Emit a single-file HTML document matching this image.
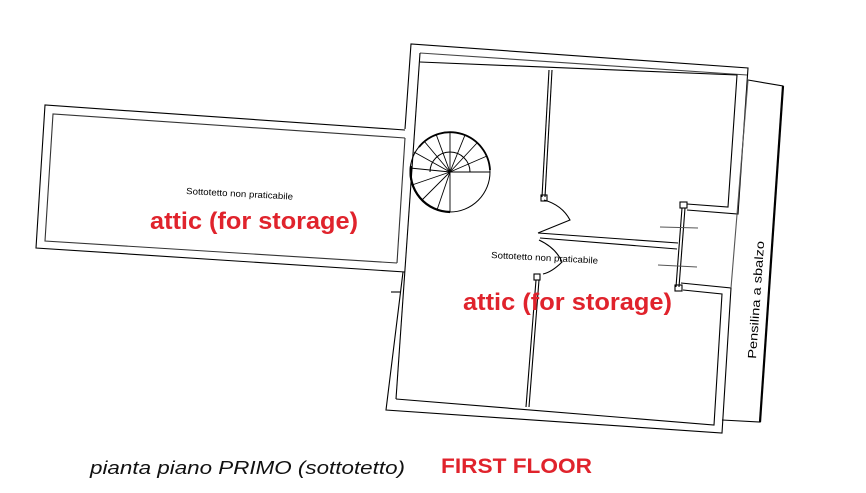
<!DOCTYPE html>
<html><head><meta charset="utf-8"><style>
html,body{margin:0;padding:0;background:#fff;width:866px;height:493px;overflow:hidden}
svg{display:block}
</style></head><body>
<svg width="866" height="493" viewBox="0 0 866 493" xmlns="http://www.w3.org/2000/svg" font-family="Liberation Sans, sans-serif">
<g fill="none" stroke="#000" stroke-width="1.1">
<!-- left wing -->
<polyline points="405,130 45,105 36,248 405,272"/>
<polyline points="405,138 53,114 45,241 397,263" stroke="#333"/>
<line x1="405" y1="138" x2="397" y2="263" stroke="#333"/>
<!-- main outer -->
<polyline points="405,129 411,44 748,68 738,214 687,210"/>
<polyline points="403,272 386,410 722,433 731,288 681,283"/>
<!-- main inner -->
<polyline points="420,53 747,75" stroke="#444"/>
<polyline points="420,62 737,75 728,207 687,204"/>
<line x1="420" y1="53" x2="396" y2="399"/>
<polyline points="683,290 722,294 714,425 396,399"/>
<line x1="391" y1="292" x2="400" y2="292"/>
<!-- pensilina -->
<polyline points="748,80 783,86 760,422 722,420"/>
<line x1="783" y1="86" x2="760" y2="422" stroke-width="2.2"/>
<line x1="748" y1="80" x2="731" y2="288" stroke="#555"/>
<!-- interior walls -->
<line x1="549" y1="70" x2="542" y2="197"/>
<line x1="552" y1="70" x2="545" y2="197"/>
<rect x="541" y="195" width="6" height="6"/>
<path d="M544,200 Q562,205 570,220 L538,233"/>
<line x1="538" y1="233" x2="678" y2="243"/>
<line x1="540" y1="238" x2="677" y2="249"/>
<path d="M539,240 Q556,248 562,262 Q552,272 543,274"/>
<rect x="534" y="274" width="6" height="6"/>
<line x1="536" y1="280" x2="526" y2="407"/>
<line x1="539" y1="280" x2="529" y2="407"/>
<rect x="680" y="202" width="7" height="6"/>
<line x1="682" y1="208" x2="676" y2="287"/>
<line x1="685" y1="208" x2="679" y2="287"/>
<rect x="675" y="285" width="7" height="6"/>
<line x1="660" y1="227" x2="698" y2="228" stroke="#555"/>
<line x1="658" y1="265" x2="697" y2="267" stroke="#555"/>
<!-- spiral stair -->
<circle cx="450" cy="172" r="40" stroke-width="1"/>
<path d="M450,212 A40,40 0 0 1 411,166" stroke-width="2.2"/>
<path d="M419,147 A40,40 0 0 1 490,170" stroke-width="1.8"/>
<path d="M430,172 A20,20 0 0 1 470,172" stroke-width="1"/>
<g stroke-width="0.9">
<line x1="450" y1="172" x2="450" y2="212"/>
<line x1="450" y1="172" x2="490" y2="172"/>
<line x1="450" y1="172" x2="437" y2="210"/>
<line x1="450" y1="172" x2="422" y2="200"/>
<line x1="450" y1="172" x2="412" y2="185"/>
<line x1="450" y1="172" x2="410" y2="168"/>
<line x1="450" y1="172" x2="414" y2="152"/>
<line x1="450" y1="172" x2="424" y2="141"/>
<line x1="450" y1="172" x2="436" y2="134"/>
<line x1="450" y1="172" x2="450" y2="132"/>
<line x1="450" y1="172" x2="465" y2="135"/>
<line x1="450" y1="172" x2="477" y2="143"/>
<line x1="450" y1="172" x2="487" y2="156"/>
</g>
</g>
<text x="186" y="194" font-size="9" fill="#000" textLength="107" lengthAdjust="spacingAndGlyphs" transform="rotate(3 186 194)">Sottotetto non praticabile</text>
<text x="491" y="258" font-size="9" fill="#000" textLength="107" lengthAdjust="spacingAndGlyphs" transform="rotate(3 491 258)">Sottotetto non praticabile</text>
<text x="150" y="229" font-size="24" font-weight="bold" fill="#e0232c" textLength="208" lengthAdjust="spacingAndGlyphs">attic (for storage)</text>
<text x="463" y="310" font-size="24" font-weight="bold" fill="#e0232c" textLength="209" lengthAdjust="spacingAndGlyphs">attic (for storage)</text>
<text x="0" y="0" font-size="12" fill="#000" textLength="118" lengthAdjust="spacingAndGlyphs" transform="translate(756,359) rotate(-86)">Pensilina a sbalzo</text>
<text x="90" y="474" font-size="18" font-style="italic" fill="#111" textLength="315" lengthAdjust="spacingAndGlyphs">pianta piano PRIMO (sottotetto)</text>
<text x="441" y="473" font-size="21" font-weight="bold" fill="#e0232c" textLength="151" lengthAdjust="spacingAndGlyphs">FIRST FLOOR</text>
</svg>
</body></html>
